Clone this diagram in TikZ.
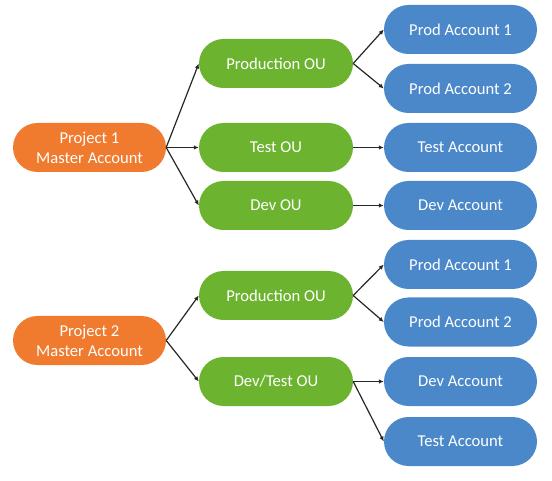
\documentclass[tikz,border=0pt]{standalone}
\usepackage{fontspec}
\setmainfont{Carlito}
\usetikzlibrary{arrows.meta}
\definecolor{orangebox}{HTML}{F07A2E}
\definecolor{greenbox}{HTML}{6CB330}
\definecolor{bluebox}{HTML}{4A88CA}
\tikzset{
  pill/.style={rectangle, rounded corners=24.5pt, minimum width=153pt, minimum height=49pt,
    inner sep=0pt, text=white, align=center, font=\fontsize{16.6}{20}\selectfont},
  master/.style={pill, fill=orangebox},
  ou/.style={pill, fill=greenbox, minimum width=154pt},
  acct/.style={pill, fill=bluebox},
  link/.style={draw=black!85, line width=1.2pt, -{Latex[length=5pt,width=4.5pt]}}
}
\begin{document}
\begin{tikzpicture}[x=1pt,y=-1pt]
\useasboundingbox (0,0) rectangle (552,481);
% group 1
\node[master] (p1) at (89.5,147.5) {Project 1\\Master Account};
\node[ou] (po1) at (276,63.5) {Production OU};
\node[ou] (to1) at (276,147.5) {Test OU};
\node[ou] (do1) at (276,205.5) {Dev OU};
\node[acct] (pa11) at (460.5,29.5) {Prod Account 1};
\node[acct] (pa12) at (460.5,88.5) {Prod Account 2};
\node[acct] (ta1) at (460.5,147.5) {Test Account};
\node[acct] (da1) at (460.5,205.5) {Dev Account};
% group 2
\node[master] (p2) at (89.5,340.5) {Project 2\\Master Account};
\node[ou] (po2) at (276,295.5) {Production OU};
\node[ou] (dto2) at (276,381.5) {Dev/Test OU};
\node[acct] (pa21) at (460.5,264.5) {Prod Account 1};
\node[acct] (pa22) at (460.5,322) {Prod Account 2};
\node[acct] (da2) at (460.5,381.5) {Dev Account};
\node[acct] (ta2) at (460.5,441.5) {Test Account};
% connectors
\draw[link] (p1.east) -- (po1.west);
\draw[link] (p1.east) -- (to1.west);
\draw[link] (p1.east) -- (do1.west);
\draw[link] (po1.east) -- (pa11.west);
\draw[link] (po1.east) -- (pa12.west);
\draw[link] (to1.east) -- (ta1.west);
\draw[link] (do1.east) -- (da1.west);
\draw[link] (p2.east) -- (po2.west);
\draw[link] (p2.east) -- (dto2.west);
\draw[link] (po2.east) -- (pa21.west);
\draw[link] (po2.east) -- (pa22.west);
\draw[link] (dto2.east) -- (da2.west);
\draw[link] (dto2.east) -- (ta2.west);
\end{tikzpicture}
\end{document}
